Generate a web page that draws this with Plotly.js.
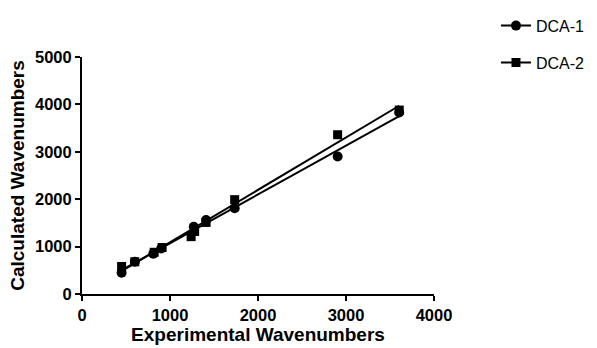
<!DOCTYPE html>
<html>
<head>
<meta charset="utf-8">
<script src="https://cdn.plot.ly/plotly-3.0.1.min.js"></script>
<style>html,body{margin:0;padding:0;background:#fff;}#chart{width:597px;height:348px;}</style>
</head>
<body>
<div id="chart"></div>
<script>
// Data
const seriesNames = ["DCA-1", "DCA-2"];
const dca1Exp  = [450, 600, 810, 900, 1270, 1410, 1735, 2905, 3605];
const dca1Calc = [450, 680, 850, 960, 1420, 1560, 1810, 2900, 3830];
const dca2Exp  = [450, 600, 820, 910, 1240, 1280, 1410, 1735, 2905, 3605];
const dca2Calc = [580, 680, 880, 980, 1210, 1320, 1510, 1990, 3360, 3880];
const xTicks = [0, 1000, 2000, 3000, 4000];
const yTicks = [0, 1000, 2000, 3000, 4000, 5000];

function linFit(xs, ys) {
  const n = xs.length;
  const mx = xs.reduce((a, b) => a + b, 0) / n;
  const my = ys.reduce((a, b) => a + b, 0) / n;
  let sxy = 0, sxx = 0;
  for (let i = 0; i < n; i++) { sxy += (xs[i] - mx) * (ys[i] - my); sxx += (xs[i] - mx) ** 2; }
  const b = sxy / sxx, a = my - b * mx;
  const x0 = Math.min(...xs), x1 = Math.max(...xs);
  return { x: [x0, x1], y: [a + b * x0, a + b * x1] };
}
const fit1 = linFit(dca1Exp, dca1Calc);
const fit2 = linFit(dca2Exp, dca2Calc);

const black = "#000000";
const FONT = "Arial, 'Liberation Sans', sans-serif";
const traces = [
  { x: fit1.x, y: fit1.y, mode: "lines", line: { color: black, width: 2 }, showlegend: false, hoverinfo: "skip" },
  { x: fit2.x, y: fit2.y, mode: "lines", line: { color: black, width: 2 }, showlegend: false, hoverinfo: "skip" },
  { x: dca1Exp, y: dca1Calc, mode: "markers", marker: { symbol: "circle", size: 10, color: black }, showlegend: false },
  { x: dca2Exp, y: dca2Calc, mode: "markers", marker: { symbol: "square", size: 9, color: black }, showlegend: false },
  { x: [null], y: [null], name: seriesNames[0], legendgroup: "g1", mode: "lines+markers",
    line: { color: black, width: 2 }, marker: { symbol: "circle", size: 10, color: black } },
  { x: [null], y: [null], name: seriesNames[1], legendgroup: "g2", mode: "lines+markers",
    line: { color: black, width: 2 }, marker: { symbol: "square", size: 9, color: black } }
];

const layout = {
  width: 597, height: 348,
  margin: { l: 82, r: 163, t: 57, b: 54, autoexpand: false },
  paper_bgcolor: "#fff", plot_bgcolor: "#fff",
  font: { family: FONT, color: black },
  showlegend: true,
  legend: {
    xref: "container", yref: "container",
    x: 0.8308, xanchor: "left", y: 0.975, yanchor: "top",
    traceorder: "grouped", tracegroupgap: 13,
    font: { size: 16, family: FONT, color: black },
    bgcolor: "rgba(0,0,0,0)"
  },
  xaxis: {
    range: [0, 4000], tickvals: xTicks, ticktext: xTicks.map(String), automargin: false,
    showgrid: false, zeroline: false, showline: true, linecolor: black, linewidth: 2,
    ticks: "outside", ticklen: 5, tickwidth: 2, tickcolor: black,
    tickfont: { size: 16.5, family: FONT, color: black, weight: "bold" },
    title: { text: "<b>Experimental Wavenumbers</b>", standoff: 4,
      font: { size: 19, family: FONT, color: black } }
  },
  yaxis: {
    range: [0, 5000], tickvals: yTicks, ticktext: yTicks.map(String), automargin: false,
    showgrid: false, zeroline: false, showline: true, linecolor: black, linewidth: 2,
    ticks: "outside", ticklen: 5, tickwidth: 2, tickcolor: black,
    tickfont: { size: 16.5, family: FONT, color: black, weight: "bold" },
    title: { text: "<b>Calculated Wavenumbers</b>", standoff: 5,
      font: { size: 19, family: FONT, color: black } }
  }
};

Plotly.newPlot("chart", traces, layout, { displayModeBar: false, staticPlot: true });
</script>
</body>
</html>
